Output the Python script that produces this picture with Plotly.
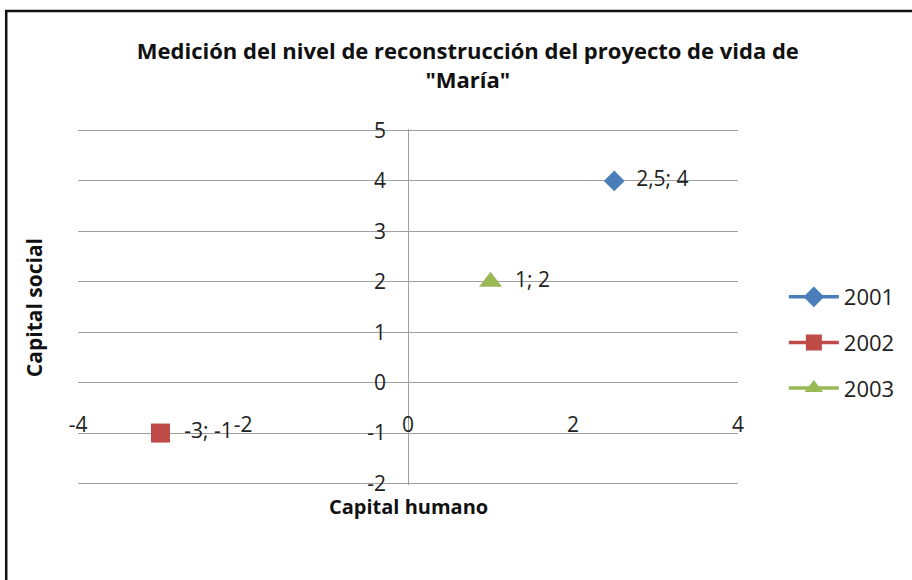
import plotly.graph_objects as go

# data
series = ["2001", "2002", "2003"]
capital_humano = [2.5, -3, 1]
capital_social = [4, -1, 2]
point_labels = ["2,5; 4", "-3; -1", "1; 2"]

x_ticks = [-4, -2, 0, 2, 4]
x_ticktext = ["-4", "-2", "0", "2", "4"]
y_ticks = [-2, -1, 0, 1, 2, 3, 4, 5]
y_ticktext = ["-2", "-1", "0", "1", "2", "3", "4", "5"]

colors = ["#4a7ebb", "#be4b48", "#98b954"]
symbols = ["diamond", "square", "triangle-up"]
sizes = [16, 19, 20]

FONT = "'Open Sans', 'Noto Sans', Arial"

fig = go.Figure()
for i, name in enumerate(series):
    fig.add_trace(
        go.Scatter(
            x=[capital_humano[i]],
            y=[capital_social[i]],
            name=name,
            legendgroup=name,
            mode="lines+markers+text",
            text=["  " + point_labels[i]],
            textposition="middle right",
            textfont=dict(size=21, color="#222"),
            marker=dict(color=colors[i], symbol=symbols[i], size=sizes[i]),
            line=dict(color=colors[i], width=3.5),
        )
    )

# plot area in pixels (range padded slightly so edge gridlines show)
L, R, T, B = 78, 740, 129, 485
W, H = R - L, B - T


def px_x(p):
    return (p - L) / W


def px_y(p):
    return (B - p) / H


fig.update_layout(
    width=912,
    height=580,
    margin=dict(l=L, r=912 - R, t=T, b=580 - B),
    paper_bgcolor="white",
    plot_bgcolor="white",
    font=dict(family=FONT, size=20, color="#222"),
    title=dict(
        text="<b>Medición del nivel de reconstrucción del proyecto de vida de<br>\"María\"</b>",
        x=px_x(469),
        xref="paper",
        xanchor="center",
        y=1 - 59 / 580,
        yanchor="middle",
        yref="container",
        font=dict(size=22, color="#111"),
    ),
    showlegend=True,
    legend=dict(
        x=px_x(786),
        y=px_y(276),
        xanchor="left",
        yanchor="top",
        font=dict(size=22, color="#222"),
        tracegroupgap=14,
        traceorder="grouped",
        itemwidth=50,
        bgcolor="rgba(0,0,0,0)",
    ),
    xaxis=dict(
        range=[-4, 4],
        tickvals=x_ticks,
        ticktext=x_ticktext,
        showgrid=False,
        zeroline=True,
        zerolinecolor="#a0a0a0",
        zerolinewidth=1,
        showline=False,
        anchor="free",
        position=px_y(410),
        ticks="",
        tickfont=dict(size=21, color="#222"),
    ),
    yaxis=dict(
        range=[-2.03, 5.03],
        tickvals=y_ticks,
        ticktext=y_ticktext,
        showgrid=True,
        gridcolor="#a0a0a0",
        gridwidth=1,
        zeroline=True,
        zerolinecolor="#a0a0a0",
        zerolinewidth=1,
        showline=False,
        anchor="free",
        position=0.5,
        ticks="",
        ticklabelstandoff=22,
        tickfont=dict(size=21, color="#222"),
    ),
    annotations=[
        dict(
            text="<b>Capital humano</b>",
            xref="paper",
            yref="paper",
            x=px_x(409),
            y=px_y(506),
            xanchor="center",
            yanchor="middle",
            showarrow=False,
            font=dict(size=20, color="#111"),
        ),
        dict(
            text="<b>Capital social</b>",
            xref="paper",
            yref="paper",
            x=px_x(34),
            y=px_y(308),
            xanchor="center",
            yanchor="middle",
            textangle=-90,
            showarrow=False,
            font=dict(size=21, color="#111"),
        ),
    ],
    shapes=[
        dict(
            type="rect",
            xref="paper",
            yref="paper",
            x0=px_x(6),
            x1=px_x(930),
            y0=px_y(600),
            y1=px_y(11),
            line=dict(color="#111", width=2.5),
            fillcolor="rgba(0,0,0,0)",
            layer="below",
        )
    ],
)

fig.write_html(
    "out.html",
    config={"displayModeBar": False},
    post_script=["document.body.style.margin = '0';"],
)
